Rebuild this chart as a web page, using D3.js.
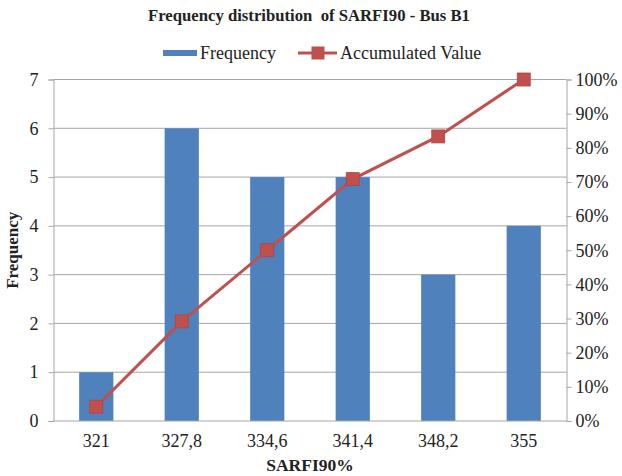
<!DOCTYPE html>
<html><head><meta charset="utf-8">
<script src="https://cdn.jsdelivr.net/npm/d3@7"></script>
<style>body{margin:0;background:#fff;} svg{display:block;} text{font-family:"Liberation Serif","Times New Roman",serif;fill:#222;}</style>
</head><body>
<svg id="c" width="622" height="476"></svg>
<script>
const categories = ["321","327,8","334,6","341,4","348,2","355"];
const frequency = [1,6,5,5,3,4];
const accumulated = [0.0417,0.2917,0.5,0.7083,0.8333,1.0];
const leftTicks = [0,1,2,3,4,5,6,7];
const rightTicks = [0,0.1,0.2,0.3,0.4,0.5,0.6,0.7,0.8,0.9,1.0];

const svg = d3.select("#c");
const m = {l:53.5, r:566.5, t:79.5, b:421};
const x = d3.scaleBand().domain(categories).range([m.l, m.r]).paddingInner(0.6).paddingOuter(0.3);
const yL = d3.scaleLinear().domain([0,7]).range([m.b, m.t]);
const yR = d3.scaleLinear().domain([0,1]).range([m.b, m.t]);
const grid = "#a6a6a6";
const FS = 18;

// gridlines
svg.append("g").selectAll("line").data(leftTicks.slice(1)).join("line")
  .attr("x1", m.l).attr("x2", m.r).attr("y1", d=>yL(d)).attr("y2", d=>yL(d))
  .attr("stroke", grid).attr("stroke-width",1);

// bars
svg.append("g").selectAll("rect").data(frequency).join("rect")
  .attr("x",(d,i)=>x(categories[i])).attr("width",x.bandwidth())
  .attr("y",d=>yL(d)).attr("height",d=>m.b-yL(d)).attr("fill","#4F81BD");

// left axis
const gL = svg.append("g").attr("transform",`translate(${m.l},0)`)
  .call(d3.axisLeft(yL).tickValues(leftTicks).tickSize(5).tickPadding(10).tickFormat(d3.format("d")));
// right axis
const gR = svg.append("g").attr("transform",`translate(${m.r},0)`)
  .call(d3.axisRight(yR).tickValues(rightTicks).tickSize(5).tickPadding(4).tickFormat(d3.format(".0%")));
// bottom axis
const gB = svg.append("g").attr("transform",`translate(0,${m.b})`)
  .call(d3.axisBottom(x).tickSize(0).tickPadding(13));
[gL,gR,gB].forEach(g=>{
  g.attr("font-family",null).attr("font-size",null);
  g.selectAll(".domain").attr("stroke",grid);
  g.selectAll(".tick line").attr("stroke",grid);
  g.selectAll("text").style("font-size",FS+"px").style("font-family","'Liberation Serif', serif").attr("fill","#222");
});
gB.select(".domain").attr("d",`M${m.l},0H${m.r}`);

// line
const cx = (d,i)=>x(categories[i])+x.bandwidth()/2;
svg.append("path").datum(accumulated)
  .attr("d", d3.line().x(cx).y(d=>yR(d)))
  .attr("fill","none").attr("stroke","#C0504D").attr("stroke-width",3);
svg.append("g").selectAll("rect").data(accumulated).join("rect")
  .attr("x",(d,i)=>cx(d,i)-6.5).attr("y",d=>yR(d)-6.5).attr("width",13).attr("height",13)
  .attr("fill","#C0504D").attr("stroke","#B04540").attr("stroke-width",0.8);

// title
svg.append("text").attr("x",309).attr("y",21).attr("text-anchor","middle")
  .style("font-size","16.7px").attr("font-weight","bold").attr("xml:space","preserve").text("Frequency distribution  of SARFI90 - Bus B1");

// legend
const lg = svg.append("g");
lg.append("rect").attr("x",163).attr("y",50).attr("width",34).attr("height",6).attr("fill","#4F81BD");
lg.append("text").attr("x",200).attr("y",58.5).style("font-size",FS+"px").text("Frequency");
lg.append("line").attr("x1",298).attr("x2",337).attr("y1",53).attr("y2",53).attr("stroke","#C0504D").attr("stroke-width",3);
lg.append("rect").attr("x",311.5).attr("y",46.5).attr("width",13).attr("height",13).attr("fill","#C0504D");
lg.append("text").attr("x",340).attr("y",58.5).style("font-size",FS+"px").text("Accumulated Value");

// axis titles
svg.append("text").attr("x",310).attr("y",471).attr("text-anchor","middle")
  .style("font-size","17.5px").attr("font-weight","bold").text("SARFI90%");
svg.append("text").attr("transform",`translate(18,${(m.t+m.b)/2}) rotate(-90)`).attr("text-anchor","middle")
  .style("font-size","17px").attr("font-weight","bold").text("Frequency");
</script>
</body></html>
